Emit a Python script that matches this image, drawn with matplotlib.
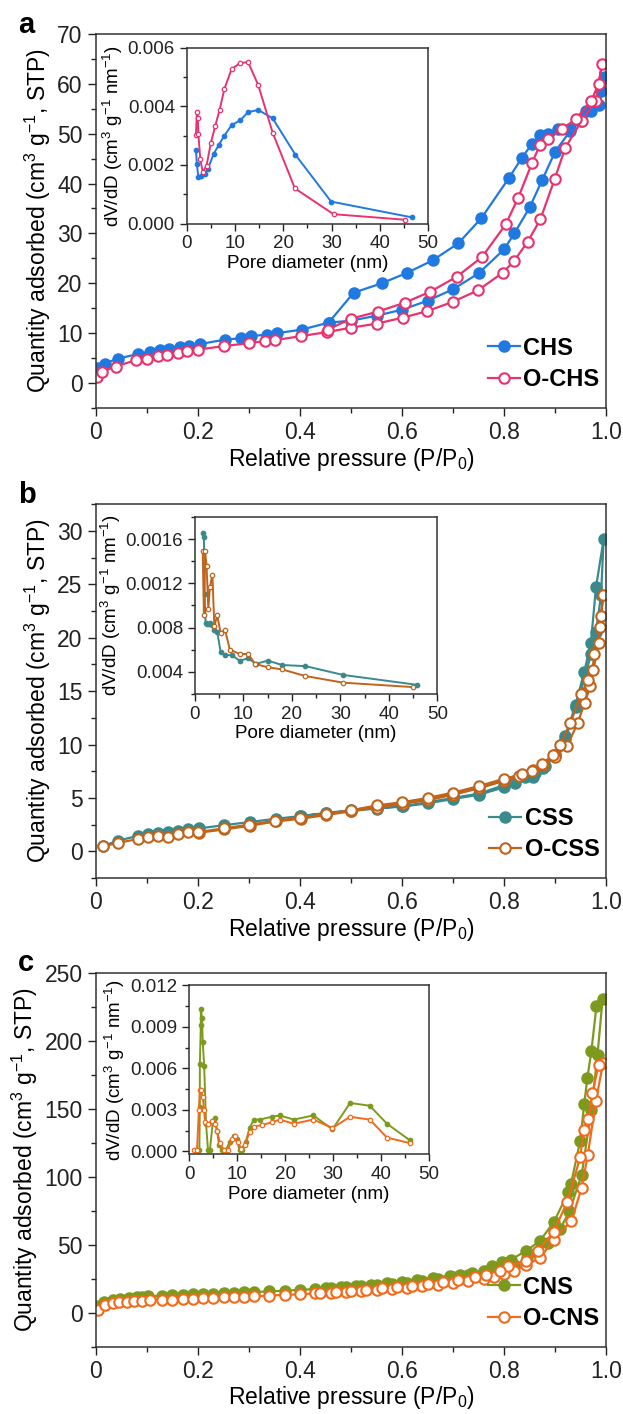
import matplotlib
matplotlib.use('Agg')
import matplotlib.pyplot as plt
from matplotlib.ticker import MultipleLocator, FixedLocator, FixedFormatter

plt.rcParams['font.family'] = ['Liberation Sans', 'DejaVu Sans']
plt.rcParams['mathtext.fontset'] = 'custom'
plt.rcParams['mathtext.rm'] = 'Liberation Sans'
plt.rcParams['mathtext.default'] = 'regular'

# ---- panel a : CHS / O-CHS isotherms ----
chs_ads_p = [0.005, 0.017, 0.043, 0.082, 0.105, 0.125, 0.144, 0.164, 0.183, 0.203, 0.253, 0.285, 0.304,
             0.335, 0.355, 0.403, 0.456, 0.50, 0.55, 0.60, 0.65, 0.70, 0.75, 0.80, 0.82, 0.85, 0.875, 0.90,
             0.93, 0.95, 0.97, 0.985, 0.998]
chs_ads_q = [3.0, 3.9, 4.9, 5.8, 6.2, 6.6, 6.8, 7.2, 7.5, 7.8, 8.7, 9.0, 9.4, 9.7, 10.0, 10.7, 12.1, 12.5,
             13.5, 14.7, 16.5, 18.8, 22.0, 26.8, 30.0, 35.2, 40.8, 46.4, 50.6, 52.5, 54.6, 55.8, 61.3]
chs_des_p = [0.99, 0.975, 0.96, 0.93, 0.905, 0.885, 0.87, 0.855, 0.835, 0.81, 0.755, 0.71, 0.66, 0.61,
             0.56, 0.505, 0.456]
chs_des_q = [58.6, 56.3, 54.5, 51.0, 51.0, 50.0, 49.7, 48.0, 45.2, 41.2, 33.0, 28.0, 24.6, 22.1, 20.0,
             18.1, 12.1]
ochs_ads_p = [0.002, 0.012, 0.039, 0.078, 0.101, 0.121, 0.14, 0.16, 0.179, 0.20, 0.251, 0.30, 0.332,
              0.351, 0.402, 0.452, 0.50, 0.55, 0.601, 0.649, 0.70, 0.749, 0.797, 0.819, 0.846, 0.871,
              0.899, 0.92, 0.952, 0.98, 0.992]
ochs_ads_q = [1.3, 2.3, 3.3, 4.6, 4.9, 5.4, 5.7, 6.0, 6.4, 6.7, 7.4, 8.0, 8.4, 8.6, 9.4, 10.2, 11.1,
              11.9, 13.1, 14.4, 16.3, 18.6, 22.1, 24.4, 28.3, 32.8, 40.9, 47.2, 52.6, 56.6, 64.0]
ochs_des_p = [0.985, 0.971, 0.94, 0.913, 0.886, 0.87, 0.855, 0.827, 0.803, 0.757, 0.707, 0.655, 0.605,
              0.552, 0.50, 0.454]
ochs_des_q = [60.0, 56.6, 52.9, 50.9, 48.9, 47.7, 44.2, 37.0, 31.8, 25.3, 21.3, 18.3, 16.1, 14.3, 12.9,
              10.7]

chs_psd_d = [1.9, 2.1, 2.4, 3.0, 3.7, 4.4, 5.6, 6.6, 7.7, 9.3, 11.1, 12.7, 14.8, 17.8, 22.5, 29.9, 46.7]
chs_psd_v = [0.0025, 0.00202, 0.00158, 0.00164, 0.00168, 0.00187, 0.00239, 0.00267, 0.00298, 0.00336,
             0.00353, 0.0038, 0.00388, 0.00359, 0.00235, 0.00075, 0.00021]
ochs_psd_d = [1.9, 2.1, 2.3, 2.4, 2.8, 3.3, 4.1, 5.0, 5.9, 6.8, 7.8, 9.3, 11.1, 12.7, 14.8, 17.8, 22.4,
              30.4, 45.2]
ochs_psd_v = [0.00302, 0.00382, 0.00359, 0.00305, 0.00221, 0.00176, 0.00198, 0.00276, 0.00333, 0.00388,
              0.0046, 0.00528, 0.00548, 0.00551, 0.00473, 0.0031, 0.0012, 0.00032, 0.00013]

# ---- panel b : CSS / O-CSS isotherms ----
css_ads_p = [0.014, 0.043, 0.082, 0.103, 0.122, 0.142, 0.161, 0.18, 0.202, 0.251, 0.302, 0.352, 0.401,
             0.451, 0.50, 0.551, 0.602, 0.651, 0.70, 0.751, 0.80, 0.821, 0.857, 0.877, 0.90, 0.92, 0.94,
             0.957, 0.97, 0.98, 0.995]
css_ads_q = [0.5, 1.0, 1.45, 1.6, 1.75, 1.85, 1.95, 2.05, 2.15, 2.45, 2.75, 3.05, 3.3, 3.6, 3.85, 4.1,
             4.2, 4.5, 4.9, 5.3, 6.0, 6.4, 7.0, 7.8, 9.0, 10.8, 13.7, 16.8, 19.5, 24.7, 29.2]
css_des_p = [0.99, 0.98, 0.97, 0.96, 0.94, 0.92, 0.90, 0.88, 0.86, 0.84, 0.82, 0.80, 0.75, 0.70, 0.65,
             0.60, 0.55, 0.50, 0.45, 0.40]
css_des_q = [24.0, 20.5, 18.5, 16.5, 13.5, 10.5, 9.0, 8.0, 7.3, 7.0, 6.6, 6.2, 5.4, 5.0, 4.6, 4.2, 4.0,
             3.8, 3.55, 3.3]
ocss_ads_p = [0.014, 0.043, 0.082, 0.103, 0.122, 0.142, 0.161, 0.18, 0.202, 0.251, 0.302, 0.352, 0.401,
              0.451, 0.50, 0.551, 0.602, 0.651, 0.70, 0.751, 0.80, 0.83, 0.857, 0.877, 0.899, 0.924,
              0.944, 0.958, 0.969, 0.977, 0.988, 0.994]
ocss_ads_q = [0.47, 0.8, 1.15, 1.3, 1.45, 1.35, 1.65, 1.8, 1.75, 2.05, 2.4, 2.8, 3.05, 3.4, 3.75, 4.1,
              4.45, 4.8, 5.3, 5.9, 6.6, 7.1, 7.6, 8.1, 8.8, 9.9, 12.0, 13.9, 15.5, 18.5, 21.0, 24.0]
ocss_des_p = [0.99, 0.985, 0.975, 0.965, 0.95, 0.93, 0.91, 0.895, 0.875, 0.855, 0.835, 0.80, 0.75, 0.70,
              0.65, 0.60, 0.55, 0.50, 0.45, 0.40, 0.35, 0.30, 0.25, 0.20]
ocss_des_q = [22.0, 19.5, 17.0, 16.0, 14.7, 12.0, 10.0, 9.0, 8.2, 7.5, 7.2, 6.8, 6.1, 5.5, 5.0, 4.6, 4.3,
              3.85, 3.5, 3.15, 2.85, 2.5, 2.15, 1.8]

css_psd_d = [1.7, 1.85, 2.0, 2.2, 2.5, 2.8, 3.2, 3.6, 4.0, 4.6, 5.3, 6.3, 7.6, 9.2, 11.0, 12.6, 15.0,
             18.0, 22.8, 30.6, 45.9]
css_psd_v = [0.00166, 0.00162, 0.0011, 0.00084, 0.00083, 0.00083, 0.00084, 0.00082, 0.00078, 0.00076,
             0.00058, 0.00055, 0.00055, 0.0005, 0.00052, 0.00047, 0.0005, 0.00046, 0.00045, 0.00037,
             0.00028]
ocss_psd_d = [1.6, 1.86, 2.1, 2.4, 2.76, 3.1, 3.6, 4.0, 4.6, 5.3, 6.2, 7.2, 9.2, 11.0, 12.4, 15.0, 18.0,
              22.8, 30.6, 45.0]
ocss_psd_v = [0.00149, 0.00091, 0.00149, 0.00136, 0.00097, 0.00117, 0.00128, 0.00081, 0.00091, 0.00075,
              0.00078, 0.0006, 0.00056, 0.00056, 0.00047, 0.00044, 0.00042, 0.00036, 0.0003, 0.00026]

# ---- panel c : CNS / O-CNS isotherms ----
cns_ads_p = [0.004, 0.015, 0.033, 0.048, 0.064, 0.08, 0.091, 0.103, 0.13, 0.15, 0.17, 0.19, 0.21, 0.23,
             0.25, 0.27, 0.29, 0.31, 0.34, 0.37, 0.40, 0.43, 0.46, 0.49, 0.52, 0.55, 0.58, 0.61, 0.64,
             0.67, 0.70, 0.73, 0.76, 0.78, 0.80, 0.82, 0.845, 0.865, 0.885, 0.91, 0.928, 0.952, 0.971,
             0.983, 0.993]
cns_ads_q = [5.1, 7.7, 9.7, 10.2, 11.0, 11.5, 12.0, 12.3, 12.6, 12.9, 13.2, 13.5, 13.8, 14.1, 14.4, 14.7,
             15.0, 15.3, 15.8, 16.3, 16.9, 17.5, 18.1, 18.8, 19.6, 20.4, 21.3, 22.3, 23.5, 24.8, 26.3,
             28.0, 30.0, 31.8, 33.0, 35.0, 40.0, 45.0, 51.1, 62.0, 74.6, 101.5, 149.5, 189.7, 231.0]
cns_des_p = [0.981, 0.971, 0.963, 0.957, 0.949, 0.931, 0.926, 0.897, 0.87, 0.843, 0.813, 0.796, 0.776,
             0.761, 0.738, 0.714, 0.693, 0.66, 0.63, 0.60, 0.57, 0.54, 0.51, 0.48, 0.45]
cns_des_q = [225.7, 192.4, 172.5, 153.4, 126.5, 94.6, 88.7, 66.5, 52.9, 45.5, 39.1, 37.1, 34.5, 30.7,
             29.4, 28.1, 27.4, 25.5, 24.0, 22.8, 21.6, 20.6, 19.7, 18.9, 18.2]
ocns_ads_p = [0.005, 0.017, 0.033, 0.045, 0.06, 0.075, 0.09, 0.105, 0.13, 0.15, 0.17, 0.19, 0.21, 0.23,
              0.25, 0.27, 0.29, 0.31, 0.34, 0.37, 0.40, 0.43, 0.46, 0.49, 0.52, 0.55, 0.58, 0.61, 0.64,
              0.67, 0.70, 0.73, 0.76, 0.78, 0.80, 0.82, 0.843, 0.87, 0.897, 0.932, 0.952, 0.964, 0.98,
              0.994]
ocns_ads_q = [1.8, 5.9, 6.9, 7.7, 8.2, 8.5, 8.9, 9.2, 9.5, 9.8, 10.1, 10.4, 10.7, 11.0, 11.3, 11.6, 11.9,
              12.2, 12.7, 13.2, 13.7, 14.3, 14.9, 15.5, 16.2, 16.9, 17.7, 18.6, 19.6, 20.7, 21.9, 23.3,
              25.0, 26.6, 28.5, 31.0, 35.3, 40.1, 53.7, 67.7, 92.0, 116.3, 156.0, 184.0]
ocns_des_p = [0.985, 0.973, 0.965, 0.956, 0.949, 0.924, 0.897, 0.866, 0.843, 0.808, 0.792, 0.765, 0.742,
              0.71, 0.68, 0.65, 0.62, 0.59, 0.56, 0.53, 0.50, 0.47, 0.44]
ocns_des_q = [182.3, 161.6, 142.4, 134.2, 114.3, 81.8, 59.6, 45.5, 38.3, 34.5, 30.7, 28.1, 26.1, 24.0,
              22.6, 21.2, 20.0, 19.0, 18.0, 17.1, 16.3, 15.6, 14.9]

cns_psd_d = [2.1, 2.2, 2.2, 2.4, 2.4, 2.66, 2.8, 3.1, 3.5, 3.9, 4.3, 4.9, 5.4, 5.8, 6.2, 6.8, 7.6, 8.5,
             9.3, 9.9, 10.5, 11.1, 11.8, 12.6, 13.5, 14.7, 17.2, 18.9, 21.8, 25.9, 29.9, 33.6, 37.7,
             41.3, 46.1]
cns_psd_v = [0.0001, 0.0032, 0.0063, 0.0091, 0.0103, 0.0096, 0.0079, 0.0062, 0.002, 0.0001, 0.0001,
             0.0021, 0.0024, 0.0015, 0.0005, 0.0001, 0.0001, 0.0007, 0.0011, 0.0009, 0.0001, 0.0001,
             0.0007, 0.0017, 0.0023, 0.0023, 0.0025, 0.0026, 0.0023, 0.0026, 0.0016, 0.0035, 0.0033,
             0.002, 0.0008]
ocns_psd_d = [1.0, 1.6, 2.0, 2.2, 2.5, 2.8, 3.1, 3.3, 3.9, 4.7, 5.4, 5.8, 6.4, 7.2, 8.1, 8.9, 9.5, 10.1,
              10.8, 11.6, 12.6, 13.5, 15.1, 17.2, 18.9, 21.8, 25.9, 29.9, 33.6, 37.7, 41.3, 46.1]
ocns_psd_v = [0.0001, 0.0001, 0.003, 0.0044, 0.0044, 0.0039, 0.003, 0.0021, 0.002, 0.0022, 0.002,
              0.0015, 0.0006, 0.0001, 0.0001, 0.0009, 0.0011, 0.0007, 0.0002, 0.0005, 0.0014, 0.0018,
              0.0019, 0.0021, 0.0023, 0.002, 0.0023, 0.0017, 0.0025, 0.0023, 0.001, 0.0006]

MAIN_FS = 16.5
INSET_FS = 13.5


def style_axis(ax, fs, major_len, minor_len):
    ax.tick_params(which='both', direction='out', top=False, right=False, labelsize=fs, width=1.0,
                   colors='#222222')
    ax.tick_params(which='major', length=major_len)
    ax.tick_params(which='minor', length=minor_len)
    for s in ax.spines.values():
        s.set_linewidth(1.1)
        s.set_color('#333333')


def draw_panel(ax, letter, samples, ylim, ystep, yminor, inset_box, inset_ylim, inset_ticks,
               inset_labels, inset_minor):
    for name, color, filled, ads_p, ads_q, des_p, des_q, _, _ in samples:
        p = ads_p + des_p
        q = ads_q + des_q
        face = color if filled else 'white'
        ax.plot(p, q, '-o', color=color, lw=1.6, ms=7.5, mfc=face, mec=color, mew=1.5, label=name)
    ax.set_xlim(0, 1.0)
    ax.set_ylim(*ylim)
    ax.xaxis.set_major_locator(FixedLocator([0, 0.2, 0.4, 0.6, 0.8, 1.0]))
    ax.xaxis.set_major_formatter(FixedFormatter(['0', '0.2', '0.4', '0.6', '0.8', '1.0']))
    ax.xaxis.set_minor_locator(MultipleLocator(0.1))
    ax.yaxis.set_major_locator(MultipleLocator(ystep))
    ax.yaxis.set_minor_locator(MultipleLocator(yminor))
    style_axis(ax, MAIN_FS, 6, 3.5)
    ax.set_xlabel(r'Relative pressure (P/P$_0$)', fontsize=MAIN_FS, labelpad=1)
    ax.set_ylabel(r'Quantity adsorbed (cm$^3$ g$^{-1}$, STP)', fontsize=MAIN_FS, labelpad=3)
    ax.legend(loc='lower right', bbox_to_anchor=(1.005, 0.02), frameon=False, handlelength=1.35,
              handletextpad=0.15, labelspacing=0.35, borderaxespad=0.0,
              prop={'weight': 'bold', 'size': 17})
    ax.text(-0.153, 1.025, letter, transform=ax.transAxes, fontsize=21, fontweight='bold', va='center')

    ins = ax.inset_axes(inset_box)
    for name, color, filled, _, _, _, _, d, v in samples:
        face = color if filled else 'white'
        ins.plot(d, v, '-o', color=color, lw=1.4, ms=3.2, mfc=face, mec=color, mew=0.9)
    ins.set_xlim(0, 50)
    ins.set_ylim(*inset_ylim)
    ins.xaxis.set_major_locator(MultipleLocator(10))
    ins.xaxis.set_minor_locator(MultipleLocator(5))
    ins.yaxis.set_major_locator(FixedLocator(inset_ticks))
    ins.yaxis.set_major_formatter(FixedFormatter(inset_labels))
    ins.yaxis.set_minor_locator(MultipleLocator(inset_minor))
    style_axis(ins, INSET_FS, 5, 3)
    ins.set_xlabel('Pore diameter (nm)', fontsize=INSET_FS, labelpad=2)
    ins.set_ylabel(r'dV/dD (cm$^3$ g$^{-1}$ nm$^{-1}$)', fontsize=INSET_FS, labelpad=2)


if __name__ == "__main__":
    fig = plt.figure(figsize=(6.23, 14.14), dpi=100)

    ax_a = fig.add_axes([0.154, 0.7115, 0.819, 0.2645])
    ax_b = fig.add_axes([0.154, 0.379, 0.819, 0.2645])
    ax_c = fig.add_axes([0.154, 0.0475, 0.819, 0.2645])

    samples_a = [('CHS', '#2079E0', True, chs_ads_p, chs_ads_q, chs_des_p, chs_des_q, chs_psd_d, chs_psd_v),
                 ('O-CHS', '#E8336E', False, ochs_ads_p, ochs_ads_q, ochs_des_p, ochs_des_q, ochs_psd_d,
                  ochs_psd_v)]
    samples_b = [('CSS', '#3A8A8C', True, css_ads_p, css_ads_q, css_des_p, css_des_q, css_psd_d, css_psd_v),
                 ('O-CSS', '#C0641C', False, ocss_ads_p, ocss_ads_q, ocss_des_p, ocss_des_q, ocss_psd_d,
                  ocss_psd_v)]
    samples_c = [('CNS', '#7E9A1E', True, cns_ads_p, cns_ads_q, cns_des_p, cns_des_q, cns_psd_d, cns_psd_v),
                 ('O-CNS', '#F26A1B', False, ocns_ads_p, ocns_ads_q, ocns_des_p, ocns_des_q, ocns_psd_d,
                  ocns_psd_v)]

    draw_panel(ax_a, 'a', samples_a, (-5, 70), 10, 5, [0.178, 0.493, 0.473, 0.47], (0, 0.006),
               [0, 0.002, 0.004, 0.006], ['0.000', '0.002', '0.004', '0.006'], 0.001)
    draw_panel(ax_b, 'b', samples_b, (-2.5, 32.5), 5, 2.5, [0.194, 0.493, 0.475, 0.472], (0.0002, 0.0018),
               [0.0004, 0.0008, 0.0012, 0.0016], ['0.004', '0.008', '0.0012', '0.0016'], 0.0002)
    draw_panel(ax_c, 'c', samples_c, (-25, 250), 50, 25, [0.183, 0.515, 0.469, 0.452], (-0.0002, 0.012),
               [0, 0.003, 0.006, 0.009, 0.012], ['0.000', '0.003', '0.006', '0.009', '0.012'], 0.0015)

    fig.savefig('out.png', dpi=100)
